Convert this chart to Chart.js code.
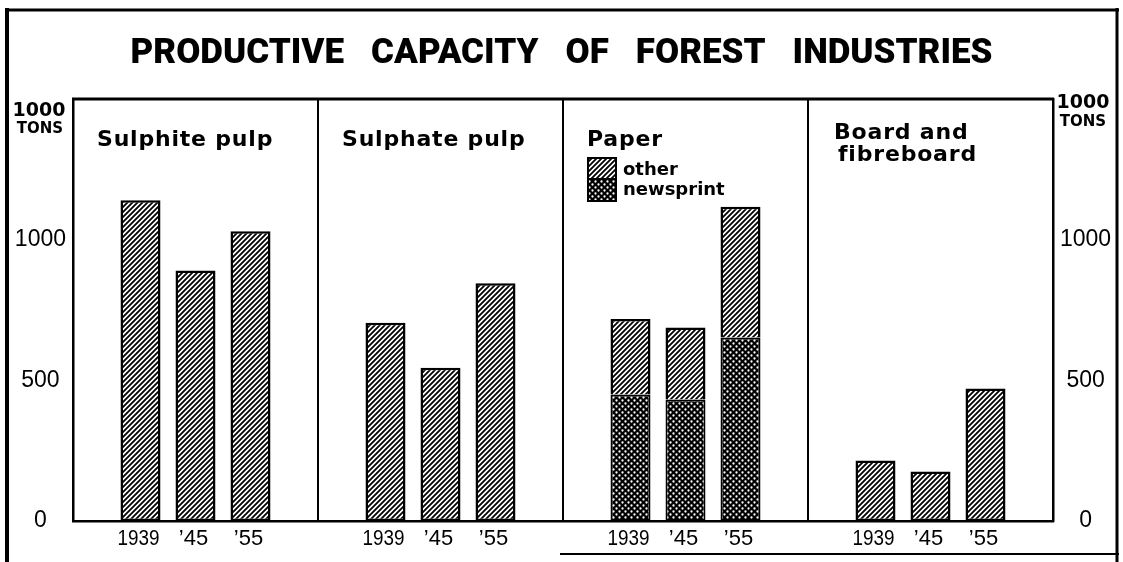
<!DOCTYPE html>
<html><head><meta charset="utf-8">
<script src="https://cdn.jsdelivr.net/npm/chart.js@4.4.1/dist/chart.umd.min.js"></script>
<style>html,body{margin:0;padding:0;background:#fff;overflow:hidden}#wrap{width:1123px;height:562px;position:relative}</style>
</head><body><div id="wrap"><canvas id="c" width="1123" height="562"></canvas></div>
<script>
// ---- data ----
const chartTitle = 'PRODUCTIVE CAPACITY OF FOREST INDUSTRIES';
const categories = [['Sulphite pulp'], ['Sulphate pulp'], ['Paper'], ['Board and', 'fibreboard']];
const years = ['1939', '\u201945', '\u201955'];
const sulphite = [1140, 890, 1030];
const sulphate = [705, 545, 845];
const paperNewsprint = [450, 432, 652];
const paperOther = [268, 256, 465];
const board = [215, 176, 471];
const yTicks = [0, 500, 1000];
const unitLabel = ['1000', 'TONS'];
const legendLabels = ['other', 'newsprint'];

// ---- patterns ----
function makeHatch() {
  const s = 5, c = document.createElement('canvas'); c.width = c.height = s;
  const g = c.getContext('2d');
  g.fillStyle = '#fff'; g.fillRect(0, 0, s, s);
  g.strokeStyle = '#000'; g.lineWidth = 1.8; g.lineCap = 'square';
  g.beginPath();
  g.moveTo(-1, s + 1); g.lineTo(s + 1, -1);
  g.moveTo(-1, 1); g.lineTo(1, -1);
  g.moveTo(s - 1, s + 1); g.lineTo(s + 1, s - 1);
  g.stroke();
  return g.createPattern(c, 'repeat');
}
function makeDots() {
  const s = 6, c = document.createElement('canvas'); c.width = c.height = s;
  const g = c.getContext('2d');
  g.fillStyle = '#000'; g.fillRect(0, 0, s, s);
  g.fillStyle = '#fff';
  [[1.5, 1.5], [4.5, 4.5]].forEach(([x, y]) => { g.beginPath(); g.arc(x, y, 1.15, 0, Math.PI * 2); g.fill(); });
  return g.createPattern(c, 'repeat');
}
const hatch = makeHatch();
const dots = makeDots();

// ---- datasets ----
const datasets = [];
years.forEach((yr, j) => {
  datasets.push({
    label: 'newsprint ' + yr, stack: 's' + j,
    data: [null, null, paperNewsprint[j], null],
    backgroundColor: dots, borderColor: '#000', borderWidth: 2, borderSkipped: false
  });
  datasets.push({
    label: yr, stack: 's' + j,
    data: [sulphite[j], sulphate[j], paperOther[j], board[j]],
    backgroundColor: hatch, borderColor: '#000', borderWidth: 2.5,
    borderSkipped: (ctx) => ctx.dataIndex === 2 ? 'bottom' : false
  });
});

function fitText(ctx, text, x, y, maxW, align) {
  const w = ctx.measureText(text).width;
  const k = w > maxW ? maxW / w : 1;
  ctx.save(); ctx.translate(x, y); ctx.scale(k, 1);
  ctx.textAlign = align || 'center'; ctx.fillText(text, 0, 0); ctx.restore();
}

const decor = {
  id: 'decor',
  beforeDraw(chart) {
    const ctx = chart.ctx; ctx.save(); ctx.fillStyle = '#fff';
    ctx.fillRect(0, 0, chart.width, chart.height); ctx.restore();
  },
  afterDraw(chart) {
    const { ctx, chartArea: a, scales } = chart;
    const xs = scales.x;
    const W = chart.width;
    ctx.save();
    ctx.fillStyle = '#000'; ctx.strokeStyle = '#000';
    // top border of plot
    ctx.lineWidth = 3;
    ctx.beginPath(); ctx.moveTo(a.left - 1, a.top); ctx.lineTo(a.right + 1, a.top); ctx.stroke();
    // outer frame
    ctx.lineWidth = 4; ctx.beginPath(); ctx.moveTo(7, 8); ctx.lineTo(7, 562); ctx.stroke();
    ctx.lineWidth = 3; ctx.beginPath(); ctx.moveTo(5, 10); ctx.lineTo(1119, 10); ctx.stroke();
    ctx.beginPath(); ctx.moveTo(1117, 8); ctx.lineTo(1117, 562); ctx.stroke();
    ctx.lineWidth = 2; ctx.beginPath(); ctx.moveTo(560, 554); ctx.lineTo(1119, 554); ctx.stroke();

    // title: words spread over the measured span
    ctx.font = '900 35px Roboto';
    ctx.textBaseline = 'alphabetic'; ctx.textAlign = 'left';
    const words = chartTitle.split(' ');
    const ws = words.map(w => ctx.measureText(w).width);
    const span = 862, sum = ws.reduce((p, q) => p + q, 0);
    const gap = (span - sum) / (words.length - 1);
    let tx = W / 2 - span / 2;
    words.forEach((w, i) => { ctx.fillText(w, tx, 63); tx += ws[i] + gap; });

    // unit labels
    ctx.textAlign = 'center';
    ctx.font = 'bold 19px "DejaVu Sans"';
    ctx.fillText(unitLabel[0], 39, 116);
    ctx.fillText(unitLabel[0], 1083, 108);
    ctx.font = 'bold 15px "DejaVu Sans"';
    ctx.fillText(unitLabel[1], 40, 133);
    ctx.fillText(unitLabel[1], 1083, 126);

    // panel titles
    const catW = a.width / categories.length;
    ctx.textAlign = 'left';
    ctx.font = 'bold 22px "DejaVu Sans"';
    ctx.letterSpacing = '0.8px';
    categories.forEach((lines, i) => {
      const left = xs.getPixelForValue(i) - catW / 2;
      if (lines.length === 1) {
        ctx.fillText(lines[0], left + 24, 146);
      } else {
        ctx.fillText(lines[0], left + 26, 139);
        ctx.fillText(lines[1], left + 30, 161);
      }
    });
    ctx.letterSpacing = '0px';

    // legend inside Paper panel
    const pl = xs.getPixelForValue(2) - catW / 2 + 25;
    ctx.lineWidth = 2;
    ctx.fillStyle = hatch; ctx.fillRect(pl, 158, 28, 21);
    ctx.fillStyle = dots; ctx.fillRect(pl, 179, 28, 22);
    ctx.strokeRect(pl, 158, 28, 21); ctx.strokeRect(pl, 179, 28, 22);
    ctx.fillStyle = '#000';
    ctx.font = 'bold 18px "DejaVu Sans"';
    ctx.fillText(legendLabels[0], pl + 35, 175);
    ctx.fillText(legendLabels[1], pl + 35, 195);

    // year labels under each bar
    ctx.font = '22px "Liberation Sans"';
    ctx.textBaseline = 'middle';
    years.forEach((yr, j) => {
      const meta = chart.getDatasetMeta(2 * j + 1);
      meta.data.forEach(bar => {
        fitText(ctx, yr, bar.x - 2, a.bottom + 18, yr.length === 4 ? 42 : 36, 'center');
      });
    });
    ctx.restore();
  }
};

const yCommon = {
  min: 0, max: 1500, stacked: true,
  afterBuildTicks: s => { s.ticks = yTicks.map(v => ({ value: v })); },
  grid: { display: false, drawTicks: false },
  border: { display: true, color: '#000', width: 2.5 },
  ticks: { color: '#000', font: { family: 'Liberation Sans', size: 23 }, crossAlign: 'center', padding: 7,
           callback: v => String(v) }
};

new Chart(document.getElementById('c'), {
  type: 'bar',
  data: { labels: categories.map(c => c.join(' ')), datasets },
  options: {
    responsive: false, animation: false, devicePixelRatio: 1,
    layout: { padding: { top: 99, left: 8, right: 6, bottom: 0 } },
    plugins: { legend: { display: false }, tooltip: { enabled: false }, title: { display: false } },
    datasets: { bar: { categoryPercentage: 165 / 245, barPercentage: 40 / 55 } },
    scales: {
      x: {
        stacked: true, z: 1,
        ticks: { display: false },
        grid: { color: '#000', lineWidth: 2, drawTicks: false, offset: true },
        border: { color: '#000', width: 2.5 },
        afterFit: s => { s.height = 41; }
      },
      y: Object.assign({}, yCommon, { position: 'left', afterFit: s => { s.width = 65; } }),
      y2: Object.assign({}, yCommon, { position: 'right', afterFit: s => { s.width = 64; } })
    }
  },
  plugins: [decor]
});
</script>
</body></html>
